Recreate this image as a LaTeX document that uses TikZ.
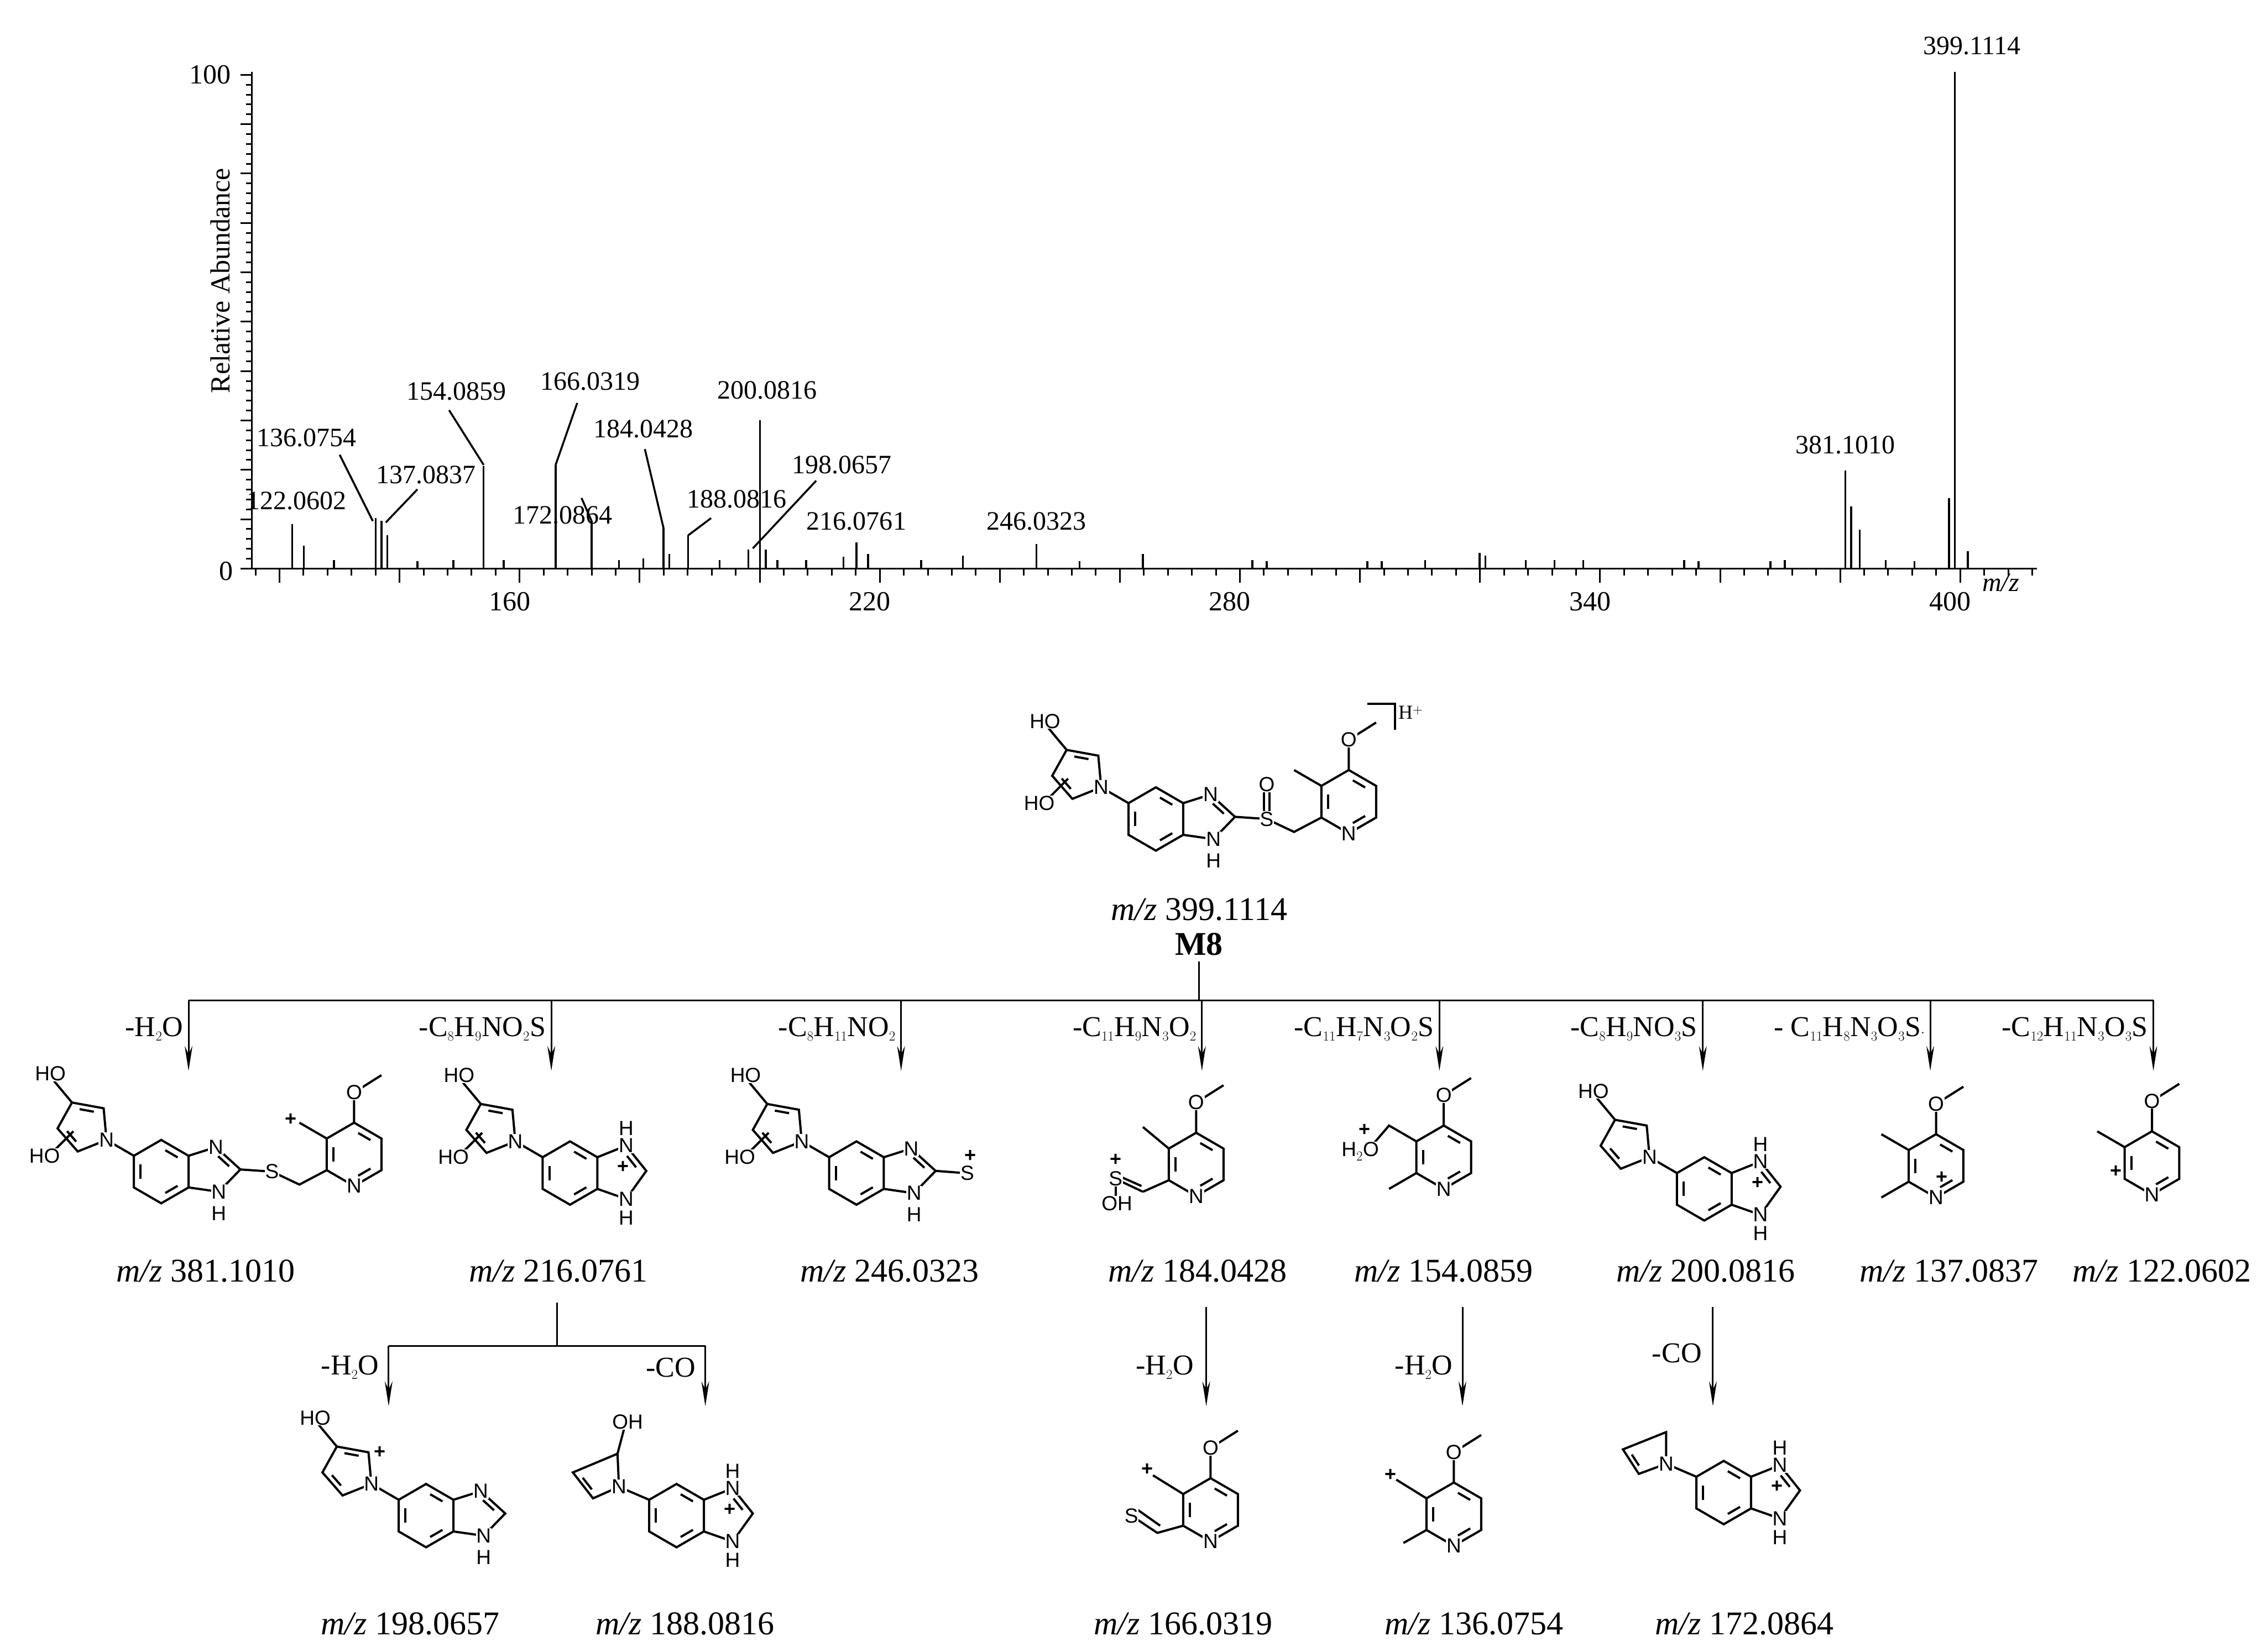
\documentclass[tikz,border=0pt]{standalone}
\usepackage{fontspec}
\setmainfont{Liberation Serif}
\setsansfont{Liberation Sans}
\usetikzlibrary{calc,arrows.meta}
\newcommand\mkdbl[3]{\draw[bond] ($($(#1)!.2!(#2)$)!.25!(#3)$) -- ($($(#2)!.2!(#1)$)!.25!(#3)$);}
\newcommand\mkbenz{%
 \coordinate (bc) at (0,0); \coordinate (b1) at (0,-22); \coordinate (b2) at (19,-11);
 \coordinate (b3) at (19,11); \coordinate (b4) at (0,22); \coordinate (b5) at (-19,11); \coordinate (b6) at (-19,-11);
 \draw[bond] (b1)--(b2)--(b3)--(b4)--(b5)--(b6)--cycle;
 \mkdbl{b1}{b2}{bc}\mkdbl{b5}{b6}{bc}\mkdbl{b3}{b4}{bc}}
\newcommand\mkimid{%
 \coordinate (n3) at (38,-17); \coordinate (c2) at (55,-1.5); \coordinate (n1) at (40,14); \coordinate (ic) at (34,-1);
 \draw[bond] (b2)--(n3)--(c2)--(n1)--(b3); \mkdbl{n3}{c2}{ic}
 \node[atom] at (n3) {N}; \node[atom] at (n1) {N}; \node[atom] at (40,29) {H};}
\newcommand\mkimidc{%
 \coordinate (n3) at (39,-19); \coordinate (c2) at (53,-1.5); \coordinate (n1) at (39,18); \coordinate (ic) at (33,-1);
 \draw[bond] (b2)--(n3)--(c2)--(n1)--(b3); \mkdbl{n3}{c2}{ic}
 \node[atom] at (n3) {N}; \node[atom] at (n1) {N}; \node[atom] at (39,-31) {H}; \node[atom] at (39,31) {H};
 \node[plus] at (37,-4) {+};}
\newcommand\mkpyrl{%
 \coordinate (p1) at (-38,-22); \coordinate (p2) at (-40,-44); \coordinate (p3) at (-62,-48);
 \coordinate (p4) at (-72,-30); \coordinate (p5) at (-58,-14); \coordinate (pc) at (-54,-32);
 \draw[bond] (b6)--(p1); \draw[bond] (p1)--(p2)--(p3)--(p4)--(p5)--cycle;
 \mkdbl{p2}{p3}{pc}\mkdbl{p4}{p5}{pc}}
\newcommand\mkNp{\node[atom] at (p1) {N};}
\newcommand\mkOHtop{\draw[bond] (p3)--(-77,-66); \node[atom] at (-77,-68) {HO};}
\newcommand\mkOHlow{\draw[bond] (-61,-28)--(-76,-13); \node[atom] at (-81,-11) {HO};}
\newcommand\mkpyr{%
 \coordinate (qc) at (0,0); \coordinate (q1) at (-19,11); \coordinate (q2) at (-19,-11); \coordinate (q3) at (0,-22);
 \coordinate (q4) at (19,-11); \coordinate (q5) at (19,11); \coordinate (qn) at (0,22); \coordinate (qo) at (0,-43); \coordinate (qm) at (19,-55);
 \draw[bond] (q1)--(q2)--(q3)--(q4)--(q5)--(qn)--cycle;
 \mkdbl{q1}{q2}{qc}\mkdbl{q3}{q4}{qc}\mkdbl{q5}{qn}{qc}
 \draw[bond] (q3)--(qo)--(qm);
 \node[atom] at (qn) {N}; \node[atom] at (qo) {O};}
\begin{document}
\begin{tikzpicture}[x=2.603pt,y=-2.603pt,
 bond/.style={line width=4pt},
 atom/.style={fill=white,inner sep=0.8pt,font=\fontsize{37}{37}\sffamily},
 plus/.style={inner sep=0pt,font=\fontsize{36}{36}\sffamily\bfseries},
 axis/.style={line width=3pt},
 pk/.style={line width=3.5pt},
 pklbl/.style={font=\fontsize{48}{48}\selectfont,inner sep=1pt},
 tick/.style={font=\fontsize{50}{50}\selectfont},
 loss/.style={font=\fontsize{52}{52}\selectfont,anchor=east,inner sep=2pt},
 mzl/.style={font=\fontsize{60}{60}\selectfont},
 arr/.style={line width=3pt,-{Stealth[length=45pt,width=14pt]}},
 tree/.style={line width=3pt}]
\useasboundingbox (0,0) rectangle (1568,1147.5);
% ---------------- spectrum ----------------
\coordinate (o) at (175,395);
\draw[axis] (175,50) -- (o) -- (1415,395);
\foreach \i in {0,2,...,100} \draw[axis] (175,395-\i*3.43) -- (171,395-\i*3.43);
\foreach \i in {0,10,...,100} \draw[axis] (175,395-\i*3.43) -- (167,395-\i*3.43);
\foreach \m in {116,120,...,412} \draw[axis] ({361+(\m-160)*4.17},395) -- ({361+(\m-160)*4.17},400);
\foreach \m in {120,140,...,400} \draw[axis] ({361+(\m-160)*4.17},395) -- ({361+(\m-160)*4.17},405);
\foreach \m in {160,220,280,340,400} \node[tick] (t\m) at ({354+(\m-160)*4.17},418) {\m};
\node[tick] (y100) at (146,52) {100};
\node[tick] (y0) at (157,397) {0};
\node[tick,rotate=90] (yl) at (153,195) {Relative Abundance};
\node[tick,font=\fontsize{48}{48}\itshape] (mzax) at (1390,405) {m/z};
% peaks
\foreach \x/\t in {203/364,211/379,261/360,265/362,269/372,336/324,386/323,411/362,461/367,465/385,478/372,
  520/382,528/292,532/382,595/377,603/385,720/378,669/386,794/385,586/387,1028/384,1032/386,1282/327,1286/352,1292/368,
  1354/346,1358/50,1367/383,232/389,290/390,315/389,350/389,430/389,447/388,500/389,540/389,560/389,640/389,
  750/390,870/389,950/390,990/389,1060/389,1080/389,1100/389,1170/389,1230/390,1240/389,1180/390,1310/389,1330/390,880/390,960/390}
  \draw[pk] (\x,395) -- (\x,\t);
\node[pklbl] (l399) at (1370,32) {399.1114};
\node[pklbl] (l381) at (1282,309) {381.1010};
\node[pklbl] (l122) at (206,348) {122.0602};
\node[pklbl] (l136) at (213,304) {136.0754};
\node[pklbl] (l137) at (296,330) {137.0837};
\node[pklbl] (l154) at (317,272) {154.0859};
\node[pklbl] (l166) at (410,265) {166.0319};
\node[pklbl] (l172) at (391,358) {172.0864};
\node[pklbl] (l184) at (447,298) {184.0428};
\node[pklbl] (l188) at (512,347) {188.0816};
\node[pklbl] (l200) at (533,271) {200.0816};
\node[pklbl] (l198) at (585,323) {198.0657};
\node[pklbl] (l216) at (595,362) {216.0761};
\node[pklbl] (l246) at (720,362) {246.0323};
\draw[pk] (236,316) -- (259,362);
\draw[pk] (290,340) -- (268,363);
\draw[pk] (312,285) -- (336,323);
\draw[pk] (401,280) -- (386,323);
\draw[pk] (404,346) -- (411,362);
\draw[pk] (448,312) -- (461,367);
\draw[pk] (494,360) -- (478,372);
\draw[pk] (567,334) -- (523,381);
% ---------------- M8 ----------------
\begin{scope}[shift={(803,569)}]
 \mkbenz \mkimid \mkpyrl \mkOHtop \mkOHlow \mkNp
 \coordinate (s) at (77,0); \coordinate (ch) at (96,9);
 \draw[bond] (c2)--(s)--(ch)--(115,-1);
 \draw[bond] (75,0)--(75,-22) (79,0)--(79,-22);
 \begin{scope}[shift={(134,-12)}] \mkpyr \draw[bond] (q2)--(-38,-22); \end{scope}
 \node[atom] at (s) {S}; \node[atom] at (77,-24) {O};
 \draw[bond] (147,-80)--(166,-80)--(166,-62);
 \node[font=\fontsize{36}{36}\selectfont] at (177,-74) {H$^{\mathbf{+}}$};
\end{scope}
\node[mzl] (m8mz) at (833,632) {\textit{m/z} 399.1114};
\node[mzl,font=\fontsize{60}{60}\bfseries] (m8) at (833,656) {M8};
% tree
\coordinate (tr) at (833,668); \coordinate (tj) at (833,695);
\draw[tree] (tr) -- (tj); \draw[tree] (131,695) -- (1496,695);
\foreach \x/\lab in {131/{-H$_2$O},383/{-C$_8$H$_9$NO$_2$S},626/{-C$_8$H$_{11}$NO$_2$},835/{-C$_{11}$H$_9$N$_3$O$_2$},
  1000/{-C$_{11}$H$_7$N$_3$O$_2$S},1183/{-C$_8$H$_9$NO$_3$S},1341/{- C$_{11}$H$_8$N$_3$O$_3$S$\cdot$},1496/{-C$_{12}$H$_{11}$N$_3$O$_3$S}}{
  \coordinate (a\x) at (\x,695); \coordinate (e\x) at (\x,744);
  \draw[arr] (a\x) -- (e\x);
  \node[loss] at (\x-3,715) {\lab};}
% ---------------- row 1 ----------------
\begin{scope}[shift={(112,814)}]
 \mkbenz \mkimid \mkpyrl \mkOHtop \mkOHlow \mkNp
 \coordinate (s) at (77,0); \coordinate (ch) at (96,9);
 \draw[bond] (c2)--(s)--(ch)--(115,-1);
 \begin{scope}[shift={(134,-12)}] \mkpyr \draw[bond] (q2)--(-38,-22); \node[plus] at (-44,-24) {+}; \end{scope}
 \node[atom] at (s) {S};
\end{scope}
\begin{scope}[shift={(396,815)}]
 \mkbenz \mkimidc \mkpyrl \mkOHtop \mkOHlow \mkNp
\end{scope}
\begin{scope}[shift={(595,815)}]
 \mkbenz \mkimid \mkpyrl \mkOHtop \mkOHlow \mkNp
 \draw[bond] (c2)--(75,0); \node[atom] at (77,0) {S}; \node[plus] at (79,-12) {+};
\end{scope}
\begin{scope}[shift={(831,809)}]
 \mkpyr \draw[bond] (q2)--(-37,-26);
 \coordinate (ch) at (-37,19); \coordinate (s) at (-56,10);
 \draw[bond] (q1)--(ch); \draw[bond] (ch)--(s); \draw[bond] ($(ch)+(-1,-4)$)--($(s)+(0,-3)$);
 \draw[bond] (s)--(-56,24);
 \node[atom] at (s) {S}; \node[plus] at (-56,-3) {+}; \node[atom] at (-55,27) {OH};
\end{scope}
\begin{scope}[shift={(1003,804)}]
 \mkpyr \draw[bond] (q1)--(-38,22); \draw[bond] (q2)--(-38,-22)--(-50,-8);
 \node[atom] at (-58,-4) {H$_2$O}; \node[plus] at (-55,-19) {+};
\end{scope}
\begin{scope}[shift={(1184,826)}]
 \mkbenz \mkimidc \mkpyrl \mkOHtop \mkNp
\end{scope}
\begin{scope}[shift={(1345,810)}]
 \mkpyr \draw[bond] (q2)--(-38,-22); \draw[bond] (q1)--(-38,22); \node[plus] at (4,8) {+};
\end{scope}
\begin{scope}[shift={(1495,808)}]
 \mkpyr \draw[bond] (q2)--(-38,-22); \node[plus] at (-25,6) {+};
\end{scope}
\foreach \x/\v in {143/381.1010,388/216.0761,618/246.0323,832/184.0428,1003/154.0859,1185/200.0816,1354/137.0837,1502/122.0602}
  \node[mzl] at (\x,883) {\textit{m/z} \v};
% ---------------- second level ----------------
\coordinate (b216) at (387,905); \coordinate (j216) at (387,935);
\draw[tree] (b216) -- (j216); \draw[tree] (270,935) -- (490,935);
\draw[arr] (270,935) -- (270,977); \node[loss] at (264,950) {-H$_2$O};
\draw[arr] (490,935) -- (490,977); \node[loss] at (484,950) {-CO};
\draw[arr] (838,908) -- (838,977); \node[loss] at (830,950) {-H$_2$O};
\draw[arr] (1016,908) -- (1016,977); \node[loss] at (1010,950) {-H$_2$O};
\draw[arr] (1190,908) -- (1190,977); \node[loss] at (1183,940) {-CO};
% ---------------- row 2 ----------------
\begin{scope}[shift={(296,1053)}]
 \mkbenz
 \coordinate (n3) at (38,-17); \coordinate (c2) at (55,-1.5); \coordinate (n1) at (40,14); \coordinate (ic) at (34,-1);
 \draw[bond] (b2)--(n3)--(c2)--(n1)--(b3); \mkdbl{n3}{c2}{ic}
 \node[atom] at (n3) {N}; \node[atom] at (n1) {N}; \node[atom] at (40,29) {H};
 \mkpyrl \mkOHtop \mkNp \node[plus] at (-32,-44) {+};
\end{scope}
\begin{scope}[shift={(470,1053)}]
 \mkbenz \mkimidc
 \coordinate (p1) at (-40,-20); \coordinate (p2) at (-41,-43); \coordinate (p3) at (-72,-30); \coordinate (p4) at (-58,-12); \coordinate (pc) at (-53,-26);
 \draw[bond] (b6)--(p1); \draw[bond] (p1)--(p2)--(p3)--(p4)--cycle; \mkdbl{p3}{p4}{pc}
 \draw[bond] (p2)--(-36,-62); \node[atom] at (-34,-65) {OH}; \mkNp
\end{scope}
\begin{scope}[shift={(841,1049)}]
 \mkpyr \draw[bond] (q2)--(-40,-24); \node[plus] at (-44,-28) {+};
 \coordinate (ch) at (-37,16); \coordinate (s) at (-55,4);
 \draw[bond] (q1)--(ch)--(s); \draw[bond] ($(ch)+(2,-5)$)--($(s)+(3,-5)$);
 \node[atom] at (s) {S};
\end{scope}
\begin{scope}[shift={(1010,1052)}]
 \mkpyr \draw[bond] (q2)--(-40,-24); \node[plus] at (-44,-27) {+}; \draw[bond] (q1)--(-35,20);
\end{scope}
\begin{scope}[shift={(1197.5,1037)}]
 \mkbenz \mkimidc
 \coordinate (p1) at (-40,-20); \coordinate (p2) at (-40,-42); \coordinate (p3) at (-70,-30); \coordinate (p4) at (-59,-13); \coordinate (pc) at (-52,-26);
 \draw[bond] (b6)--(p1); \draw[bond] (p1)--(p2)--(p3)--(p4)--cycle; \mkdbl{p3}{p4}{pc} \mkNp
\end{scope}
\foreach \x/\v in {285/198.0657,476/188.0816,822/166.0319,1024/136.0754,1212/172.0864}
  \node[mzl] at (\x,1128) {\textit{m/z} \v};
\end{tikzpicture}
\end{document}
